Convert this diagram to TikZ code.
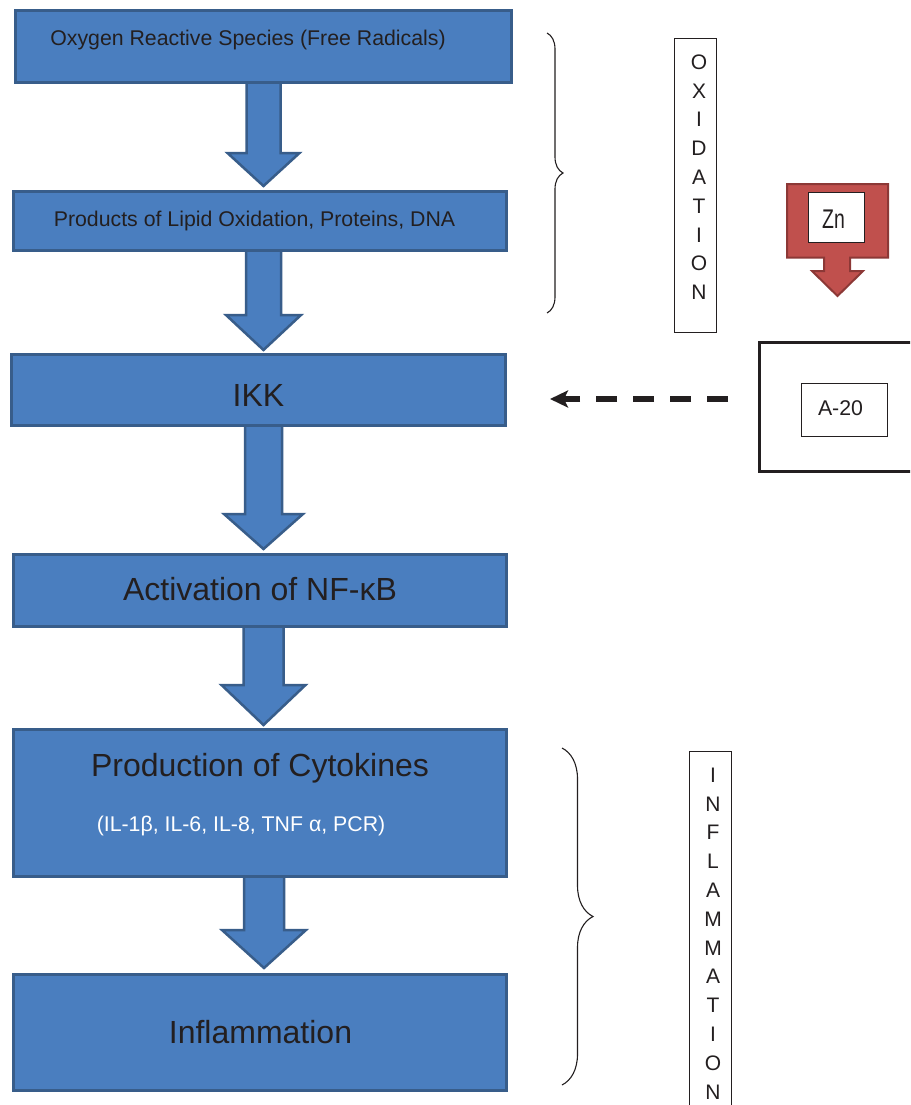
\documentclass[tikz,border=0pt]{standalone}
\usepackage{fontspec}
\setmainfont{Liberation Sans}
\usetikzlibrary{arrows.meta,decorations.pathreplacing}
\definecolor{bfill}{RGB}{74,126,191}
\definecolor{bedge}{RGB}{56,93,138}
\definecolor{rfill}{RGB}{192,80,77}
\definecolor{redge}{RGB}{140,56,54}
\definecolor{ink}{RGB}{35,31,32}
\newcommand{\blockarrow}[6]{%
  \draw[barrowstyle] ({#1-#5},#2) -- ({#1-#5},#3) -- ({#1-#6},#3) -- (#1,#4) -- ({#1+#6},#3) -- ({#1+#5},#3) -- ({#1+#5},#2) -- cycle;}
\begin{document}
\begin{tikzpicture}[x=1pt,y=-1pt,
  bluebox/.style={draw=bedge, fill=bfill, line width=3pt, inner sep=0pt},
  barrowstyle/.style={draw=bedge, fill=bfill, line width=2.5pt, line join=miter},
  smalltext/.style={font=\fontsize{21.3}{25}\selectfont, text=ink, inner sep=0pt, anchor=base},
  bigtext/.style={font=\fontsize{32}{36}\selectfont, text=ink, inner sep=0pt, anchor=base},
  vletter/.style={font=\fontsize{21}{24}\selectfont, text=ink, inner sep=0pt},
  thinbox/.style={draw=ink, line width=1pt, inner sep=0pt},
  bracestyle/.style={draw=ink, line width=1.1pt, decorate},
]
\useasboundingbox (0,0) rectangle (910,1105);
\fill[white] (0,0) rectangle (910,1105);
\clip (0,0) rectangle (910,1105);

% block arrows (drawn first, boxes cover their tops)
\blockarrow{263.5}{80}{153}{186}{17}{36}
\blockarrow{263.5}{248}{315}{350}{17.5}{37.5}
\blockarrow{263.5}{423}{514}{549}{18.5}{39.5}
\blockarrow{263.5}{624}{685}{725}{20}{42}
\blockarrow{264}{874}{930}{968}{20}{42}

% main boxes
\node[bluebox, minimum width=496, minimum height=72] (b1) at (263.5,46.5) {};
\node[bluebox, minimum width=493, minimum height=59] (b2) at (260,221) {};
\node[bluebox, minimum width=494, minimum height=71] (b3) at (258.5,390) {};
\node[bluebox, minimum width=493, minimum height=72] (b4) at (260,590.5) {};
\node[bluebox, minimum width=493, minimum height=147] (b5) at (260,803) {};
\node[bluebox, minimum width=493, minimum height=116] (b6) at (260,1032.5) {};

% texts
\node[smalltext] (t1) at (248,46) {Oxygen Reactive Species (Free Radicals)};
\node[smalltext] (t2) at (254.5,226) {Products of Lipid Oxidation, Proteins, DNA};
\node[bigtext] (t3) at (258.5,406) {IKK};
\node[bigtext] (t4) at (260,600) {Activation of NF-κB};
\node[bigtext] (t5) at (260,776) {Production of Cytokines};
\node[smalltext, text=white] (t5b) at (241,831) {(IL-1β, IL-6, IL-8, TNF α, PCR)};
\node[bigtext] (t6) at (260.5,1043) {Inflammation};

% braces
\draw[bracestyle, decoration={brace, amplitude=16pt}] (547,33) -- (547,313);
\draw[bracestyle, decoration={brace, amplitude=31pt}] (562,748) -- (562,1085);

% OXIDATION label
\node[thinbox, minimum width=42, minimum height=294] (oxbox) at (695.5,185.5) {};
\foreach \l [count=\i] in {O,X,I,D,A,T,I,O,N}
  \node[vletter] (ox\i) at (699,{62+(\i-1)*28.8}) {\l};

% INFLAMMATION label
\node[thinbox, minimum width=42, minimum height=377] (inbox) at (710.5,940) {};
\foreach \l [count=\i] in {I,N,F,L,A,M,M,A,T,I,O,N}
  \node[vletter] (in\i) at (713,{775+(\i-1)*28.8}) {\l};

% Zn arrow
\draw[draw=redge, fill=rfill, line width=2pt, line join=miter]
  (787,184) -- (888,184) -- (888,257.5) -- (850,257.5) -- (850,271) -- (863,271)
  -- (837.5,296) -- (812,271) -- (824,271) -- (824,257.5) -- (787,257.5) -- cycle;
\node[thinbox, fill=white, minimum width=56, minimum height=50] (znbox) at (836.5,217.5) {};
\node[font=\fontsize{27}{30}\selectfont, text=ink, inner sep=0pt, anchor=base] (zn) at (833.5,228) {\scalebox{0.72}[1]{Zn}};

% A-20
\node[draw=ink, line width=3.5pt, minimum width=180, minimum height=129, inner sep=0pt] (a20out) at (849.5,407) {};
\node[thinbox, minimum width=86, minimum height=53] (a20box) at (844.5,410) {};
\node[smalltext] (a20) at (840.5,415) {A-20};

% dashed inhibitory arrow
\coordinate (dashs) at (728,399);
\coordinate (dashe) at (550,399);
\draw[ink, line width=5.5pt, dash pattern=on 21pt off 16pt,
  -{Stealth[length=18pt,width=17pt,inset=4pt]}] (dashs) -- (dashe);
\end{tikzpicture}
\end{document}
